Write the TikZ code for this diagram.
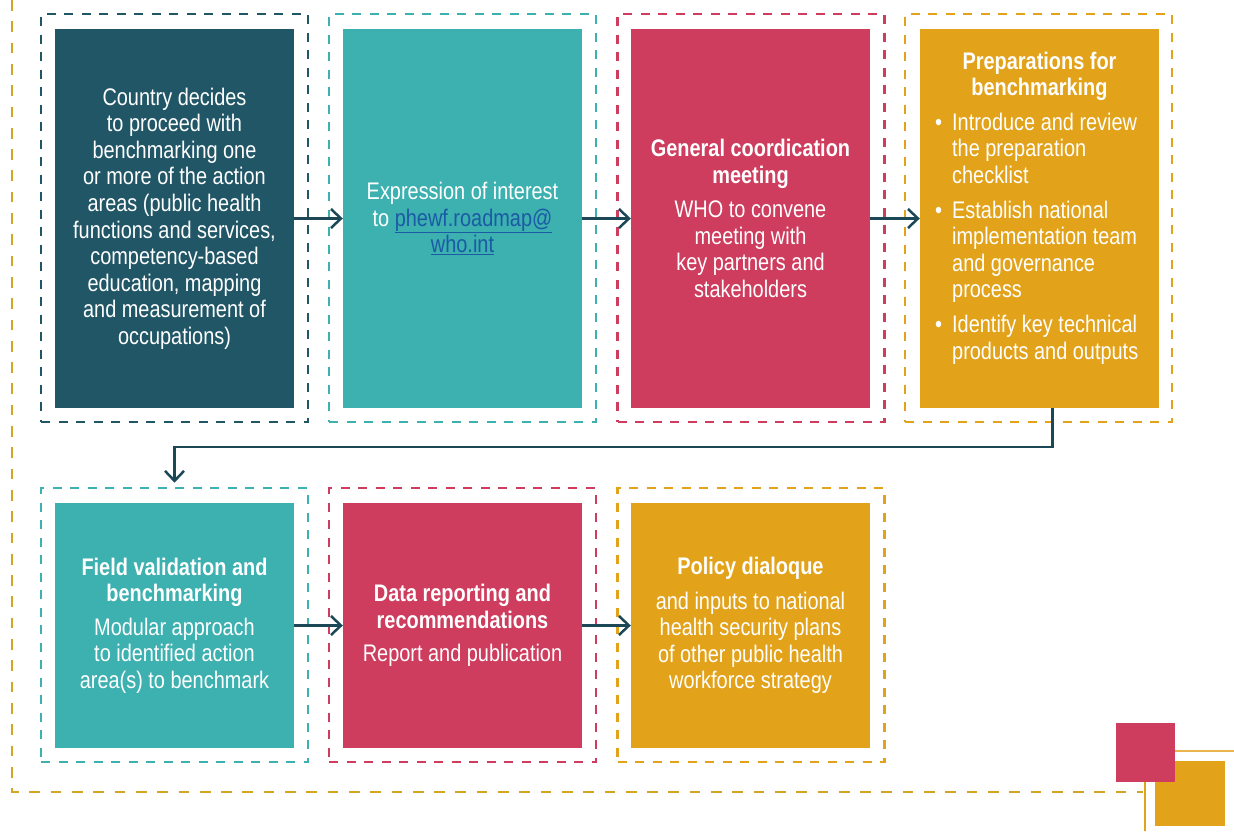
\documentclass[tikz,border=0pt]{standalone}
\usepackage{fontspec}
\setmainfont[FakeStretch=0.83]{Liberation Sans}
\usetikzlibrary{arrows.meta,calc}
\definecolor{whopetrol}{HTML}{205666}
\definecolor{whoteal}{HTML}{3DB0B0}
\definecolor{whorose}{HTML}{CE3C5E}
\definecolor{whogold}{HTML}{E2A21A}
\definecolor{whoframe}{HTML}{D4A522}
\definecolor{wholine}{HTML}{EBB44C}
\definecolor{wholink}{HTML}{1B5AA5}
\definecolor{whoarrow}{HTML}{1B4757}
\tikzset{
    stepbox/.style={fill=#1, text=white, inner sep=0pt, minimum width=239pt, align=center,
      font=\fontsize{24}{26.6}\selectfont, execute at begin node=\rule{0pt}{21.5pt}},
    tall/.style={minimum height=379pt},
    low/.style={minimum height=245pt},
    frame/.style={draw=#1, line width=2.6pt, dash pattern=on 9pt off 8.5pt, minimum width=267pt},
    flow/.style={draw=whoarrow, line width=2.5pt, -{Straight Barb[length=10pt,width=19pt]}},
    boxtext/.style={text=white, inner sep=0pt, font=\fontsize{24}{26.6}\selectfont},
  }
\begin{document}
\begin{tikzpicture}[x=1pt,y=-1pt]
  \useasboundingbox (0,0) rectangle (1234,831);
  %outer frame
  \draw[whoframe, line width=2.5pt, dash pattern=on 10.7pt off 10.6pt] (12,0) -- (12,792) -- (1143,792);
  %first row
  \node[frame=whopetrol, minimum height=408pt] (f1) at (174.5,218) {};
  \node[frame=whoteal,   minimum height=408pt] (f2) at (462.5,218) {};
  \node[frame=whorose,   minimum height=408pt] (f3) at (751,218) {};
  \node[frame=whogold,   minimum height=408pt] (f4) at (1038.5,218) {};
  \node[stepbox=whopetrol, tall] (b1) at (174.5,218.5) {Country decides\\to proceed with\\benchmarking one\\or more of the action\\areas (public health\\functions and services,\\competency-based\\education, mapping\\and measurement of\\occupations)};
  \node[stepbox=whoteal, tall] (b2) at (462.5,218.5) {Expression of interest\\to \textcolor{wholink}{\underline{phewf.roadmap@}}\\\textcolor{wholink}{\underline{who.int}}};
  \node[stepbox=whorose, tall] (b3) at (750.5,218.5) {\textbf{General coordication}\\\textbf{meeting}\\[8pt]WHO to convene\\meeting with\\key partners and\\stakeholders};
  \node[stepbox=whogold, tall] (b4) at (1039.5,218.5) {};
  \node[boxtext, align=center] (t4) at (1039.5,76.5) {\textbf{Preparations for}\\\textbf{benchmarking}};
  \node[boxtext, align=left, anchor=west] (l4) at (935,238.5) {\makebox[17pt][l]{\textbullet}Introduce and review\\\hspace*{17pt}the preparation\\\hspace*{17pt}checklist\\[8pt]\makebox[17pt][l]{\textbullet}Establish national\\\hspace*{17pt}implementation team\\\hspace*{17pt}and governance\\\hspace*{17pt}process\\[8pt]\makebox[17pt][l]{\textbullet}Identify key technical\\\hspace*{17pt}products and outputs};
  %second row
  \node[frame=whoteal, minimum height=274pt] (f5) at (174.5,625) {};
  \node[frame=whorose, minimum height=274pt] (f6) at (462.5,625) {};
  \node[frame=whogold, minimum height=274pt] (f7) at (751,625) {};
  \node[stepbox=whoteal, low] (b5) at (174.5,625.5) {\textbf{Field validation and}\\\textbf{benchmarking}\\[7pt]Modular approach\\to identified action\\area(s) to benchmark};
  \node[stepbox=whorose, low] (b6) at (462.5,625.5) {\textbf{Data reporting and}\\\textbf{recommendations}\\[7pt]Report and publication};
  \node[stepbox=whogold, low] (b7) at (750.5,625.5) {\textbf{Policy dialoque}\\[8pt]and inputs to national\\health security plans\\of other public health\\workforce strategy};
  %arrows
  \draw[flow] (b1) -- (b2);
  \draw[flow] (b2) -- (b3);
  \draw[flow] (b3) -- (b4);
  \draw[flow] ([xshift=13pt]b4.south) -- ++(0,39) -| ([yshift=4pt]f5.north);
  \draw[flow] (b5) -- (b6);
  \draw[flow] (b6) -- (b7);
  %corner
  \fill[whogold] (1155,761) rectangle (1225,826);
  \fill[whorose] (1116,723) rectangle (1175,782);
  \draw[wholine, line width=2pt] (1175,751) -- (1234,751);
  \draw[whogold, line width=2pt] (1145,782) -- (1145,831);
\end{tikzpicture}
\end{document}
